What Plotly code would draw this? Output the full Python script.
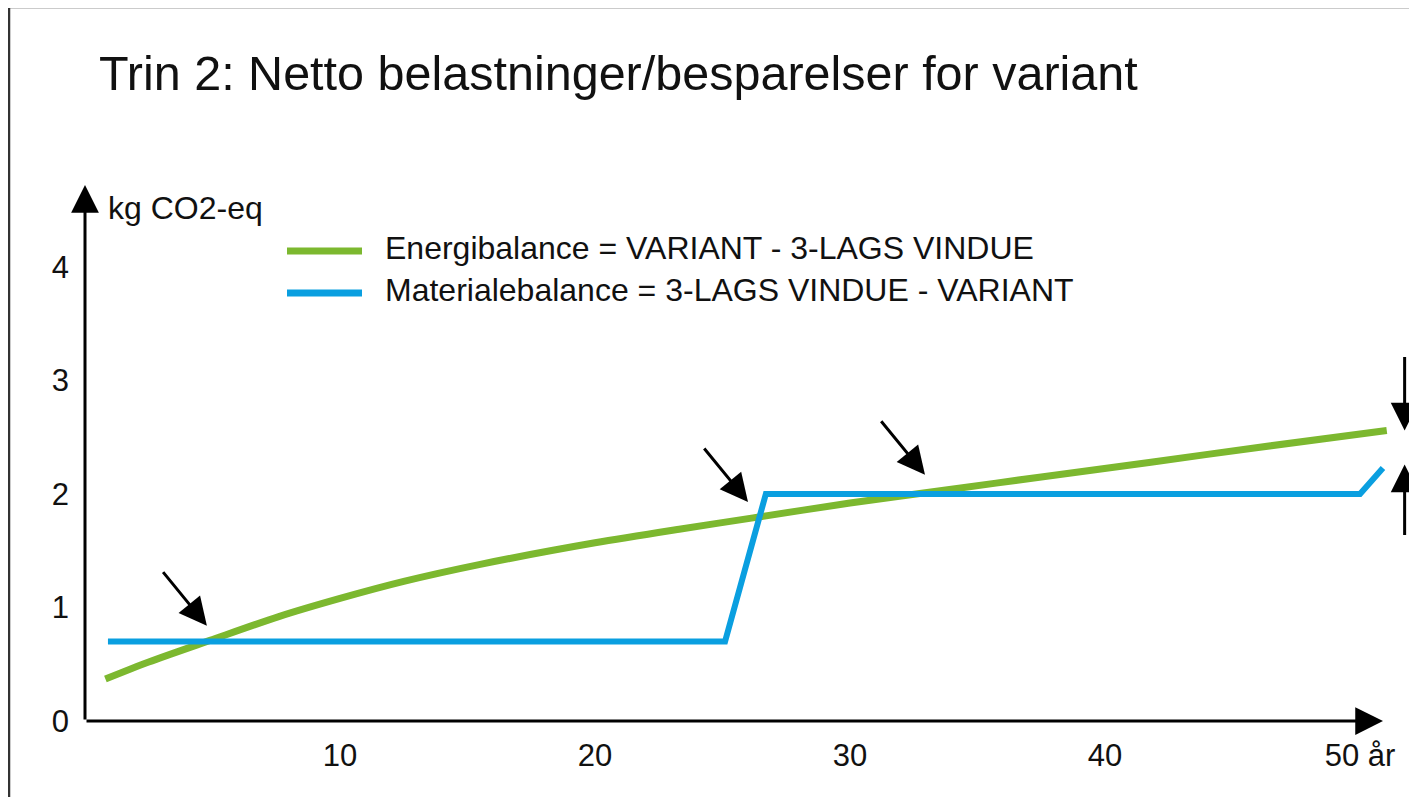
import plotly.graph_objects as go

# --- data ------------------------------------------------------------------
energy_x = [0.8, 2.5, 4.9, 7.6, 10.0, 12.5, 15.5, 20.0, 23.3, 26.2, 30.0, 33.9, 37.5, 41.8, 46.0, 51.05]
energy_y = [0.37, 0.52, 0.71, 0.92, 1.08, 1.23, 1.38, 1.57, 1.69, 1.79, 1.92, 2.04, 2.15, 2.28, 2.41, 2.56]

material_x = [0.9, 25.1, 26.7, 50.0, 50.9]
material_y = [0.70, 0.70, 2.00, 2.00, 2.23]

y_ticks = [0, 1, 2, 3, 4]
x_ticks = [10, 20, 30, 40, 50]
x_tick_text = ["10", "20", "30", "40", "50 år"]

# pointer arrows: tip (x, y) and pixel offset of the tail
pointer_tips = [(4.78, 0.84), (26.0, 1.93), (32.94, 2.17)]
pointer_tail = (-45, -55)
gap_x = 51.75
gap_top, gap_bottom = 2.56, 2.26

GREEN = "#7cb82f"
BLUE = "#0a9fe0"
INK = "#111111"
FONT = "Liberation Sans, Arial, sans-serif"
HEAD = 1.85

W, H = 1417, 797
OFF = 8  # page body margin that shifts the whole figure
ML, MR = 83 - OFF, 0
MT = 10 - OFF
MB = H - (721 - OFF)
PW, PH = W - ML - MR, H - MT - MB

# axis scale: x=0 at px 85, 25.5 px per year; y=0 at axis, 113.5 px per unit
x_lo = -2 / 25.5
x_hi = x_lo + PW / 25.5
y_lo = 0.0
y_hi = PH / 113.5


def px(x):
    return (x - OFF - ML) / PW


def py(y):
    return (H - MB - (y - OFF)) / PH


fig = go.Figure()

fig.add_trace(go.Scatter(
    x=energy_x, y=energy_y, mode="lines",
    line=dict(color=GREEN, width=7, shape="spline", smoothing=0.8),
    showlegend=False, hoverinfo="skip",
))
fig.add_trace(go.Scatter(
    x=material_x, y=material_y, mode="lines",
    line=dict(color=BLUE, width=6),
    showlegend=False, hoverinfo="skip",
))

annotations = []

# axes drawn as arrows
annotations.append(dict(
    x=0, y=(721 - 185) / 113.5, ax=0, ay=0, xref="x", yref="y",
    axref="x", ayref="y", text="", showarrow=True,
    arrowhead=2, arrowsize=HEAD, arrowwidth=3, arrowcolor="black",
))
annotations.append(dict(
    x=(1383 - 85) / 25.5, y=0, ax=0, ay=0, xref="x", yref="y",
    axref="x", ayref="y", text="", showarrow=True,
    arrowhead=2, arrowsize=HEAD, arrowwidth=3, arrowcolor="black",
))

for tx, ty in pointer_tips:
    annotations.append(dict(
        x=tx, y=ty, ax=pointer_tail[0], ay=pointer_tail[1], xref="x", yref="y",
        text="", showarrow=True, arrowhead=2, arrowsize=HEAD, arrowwidth=3,
        arrowcolor="black",
    ))

annotations.append(dict(
    x=gap_x, y=gap_top, ax=0, ay=-75, xref="x", yref="y", text="",
    showarrow=True, arrowhead=2, arrowsize=HEAD, arrowwidth=3, arrowcolor="black",
))
annotations.append(dict(
    x=gap_x, y=gap_bottom, ax=0, ay=72, xref="x", yref="y", text="",
    showarrow=True, arrowhead=2, arrowsize=HEAD, arrowwidth=3, arrowcolor="black",
))

# title and axis unit
annotations.append(dict(
    x=px(97), y=py(73), xref="paper", yref="paper", xanchor="left", yanchor="middle",
    text="Trin 2: Netto belastninger/besparelser for variant", showarrow=False,
    font=dict(family=FONT, size=48.5, color=INK),
))
annotations.append(dict(
    x=px(106), y=py(208), xref="paper", yref="paper", xanchor="left", yanchor="middle",
    text="kg CO2-eq", showarrow=False, font=dict(family=FONT, size=32, color=INK),
))

# hand-made legend
legend_rows = [
    (GREEN, 251, "Energibalance = VARIANT - 3-LAGS VINDUE"),
    (BLUE, 293, "Materialebalance = 3-LAGS VINDUE - VARIANT"),
]
shapes = []
for color, row_y, label in legend_rows:
    shapes.append(dict(
        type="line", xref="paper", yref="paper",
        x0=px(287), x1=px(362), y0=py(row_y), y1=py(row_y),
        line=dict(color=color, width=7),
    ))
    annotations.append(dict(
        x=px(383), y=py(row_y - 3), xref="paper", yref="paper",
        xanchor="left", yanchor="middle", text=label, showarrow=False,
        font=dict(family=FONT, size=32, color=INK),
    ))

# picture frame (left and top edges)
shapes.append(dict(
    type="path", xref="paper", yref="paper",
    path=f"M {px(9)} {py(805)} L {px(9)} {py(7)} L {px(1430)} {py(7)}",
    line=dict(color="#333333", width=2.5),
))

fig.update_layout(
    width=W, height=H,
    margin=dict(l=ML, r=MR, t=MT, b=MB),
    paper_bgcolor="white", plot_bgcolor="white",
    annotations=annotations, shapes=shapes,
    showlegend=False,
    xaxis=dict(
        range=[x_lo, x_hi], showgrid=False, zeroline=False, showline=False,
        tickvals=x_ticks, ticktext=x_tick_text, ticks="",
        tickfont=dict(family=FONT, size=31, color=INK), ticklabelstandoff=13,
    ),
    yaxis=dict(
        range=[y_lo, y_hi], showgrid=False, zeroline=False, showline=False,
        tickvals=y_ticks, ticks="",
        tickfont=dict(family=FONT, size=31, color=INK), ticklabelstandoff=13,
    ),
)

fig.write_html("out.html")
